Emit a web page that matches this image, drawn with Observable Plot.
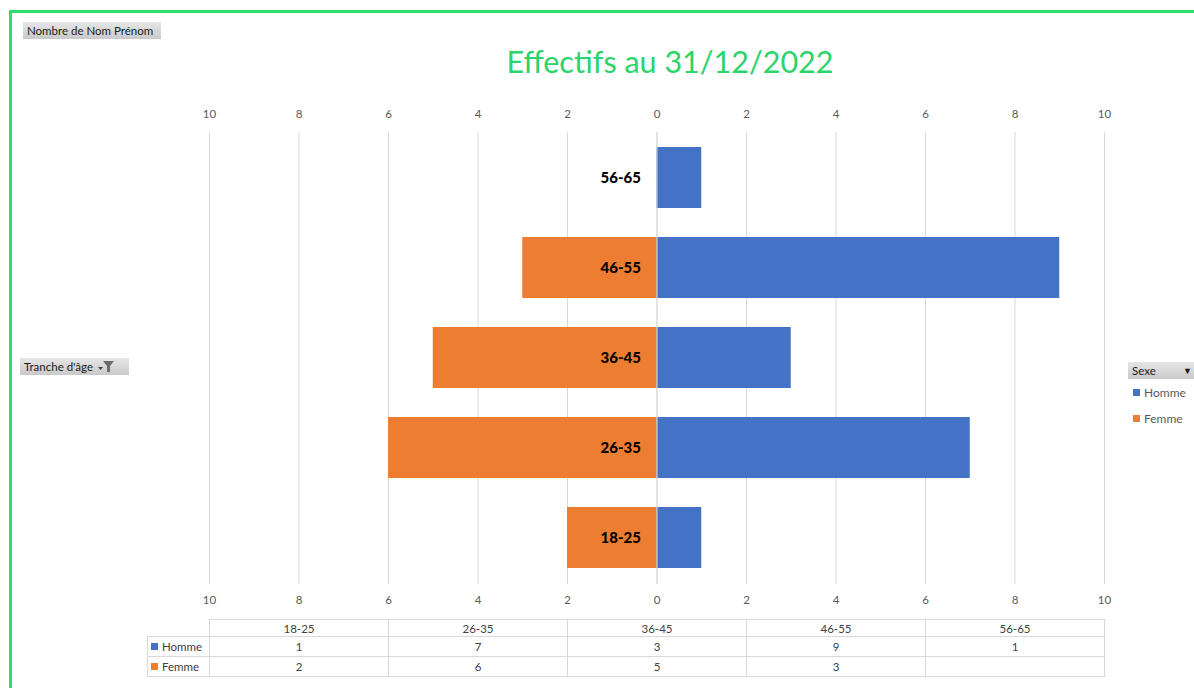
<!DOCTYPE html>
<html><head><meta charset="utf-8">
<script src="https://cdn.jsdelivr.net/npm/d3@7"></script>
<script src="https://cdn.jsdelivr.net/npm/@observablehq/plot@0.6"></script>
<style>
body{margin:0;background:#fff;font-family:Lato,"Open Sans",sans-serif;}
#wrap{position:relative;width:1194px;height:688px;overflow:hidden;background:#fff;}
#wrap > svg{position:absolute;left:0;top:0;}
.frame{position:absolute;left:9px;top:10px;width:1300px;height:800px;border-left:3px solid #2BDE6A;border-top:3px solid #2BDE6A;}
.btn{position:absolute;background:linear-gradient(#E6E6E6,#C9C9C9);color:#1a1a1a;font-size:11.5px;line-height:17px;height:17px;padding:0 4px;white-space:nowrap;box-sizing:border-box;}
.title{position:absolute;left:670px;top:41px;transform:translateX(-50%);color:#2BD468;font-size:30.5px;white-space:nowrap;line-height:40px;}
.leg{position:absolute;font-size:12px;color:#595959;white-space:nowrap;}
.sw{display:inline-block;width:7px;height:7px;margin-right:4px;vertical-align:1px;}
table.dt{position:absolute;left:147px;top:619px;border-collapse:collapse;font-size:11.5px;color:#404040;}
table.dt td{border:1px solid #D9D9D9;height:19px;padding:0;text-align:center;line-height:15px;}
table.dt tr.hd td{height:16px;}
table.dt td.lab{text-align:left;padding-left:3px;width:58px;}
table.dt td.c{width:178px;}
table.dt td.blank{border:none;border-bottom:1px solid #D9D9D9;}
</style></head><body><div id="wrap"></div>
<script>
const ages = ["18-25","26-35","36-45","46-55","56-65"];
const homme = [1,7,3,9,1];
const femme = [2,6,5,3,null];
const series = ["Homme","Femme"];
const colors = ["#4472C4","#ED7D31"];
const xTicks = [-10,-8,-6,-4,-2,0,2,4,6,8,10];
const titleText = "Effectifs au 31/12/2022";
const valueField = "Nombre de Nom Prénom";
const rowField = "Tranche d'âge";
const legendField = "Sexe";

const data = [];
ages.forEach((a,i)=>{
  data.push({age:a, sexe:"Homme", v:homme[i]});
  if (femme[i] != null) data.push({age:a, sexe:"Femme", v:-femme[i]});
});

const font = "Lato, 'Open Sans', sans-serif";
const chart = Plot.plot({
  width:1194, height:688,
  marginLeft:209, marginRight:90, marginTop:132, marginBottom:104,
  style:{fontFamily:font, fontSize:"11.5px", color:"#595959", background:"transparent", overflow:"visible"},
  x:{domain:[-10,10]},
  y:{domain:ages.slice().reverse(), paddingInner:0.32, paddingOuter:0.16, axis:null},
  color:{domain:series, range:colors},
  marks:[
    Plot.ruleX(xTicks,{stroke:"#D9D9D9", strokeWidth:1}),
    Plot.barX(data,{x:"v", y:"age", fill:"sexe"}),
    Plot.ruleX([0],{stroke:"#D9D9D9", strokeWidth:1}),
    Plot.text(ages,{x:()=>0, y:d=>d, text:d=>d, textAnchor:"end", dx:-16, fontWeight:"900", fontSize:15, fill:"#000"}),
    Plot.axisX({anchor:"top", ticks:xTicks, tickSize:0, tickPadding:15, tickFormat:d=>Math.abs(d), label:null, fill:"#595959"}),
    Plot.axisX({anchor:"bottom", ticks:xTicks, tickSize:0, tickPadding:11, tickFormat:d=>Math.abs(d), label:null, fill:"#595959"})
  ]
});

const wrap = document.getElementById("wrap");
wrap.appendChild(chart);

function el(tag, cls, html, style){
  const e = document.createElement(tag);
  if (cls) e.className = cls;
  if (html != null) e.innerHTML = html;
  if (style) Object.assign(e.style, style);
  wrap.appendChild(e);
  return e;
}
el("div","frame");
el("div","title",titleText);
el("div","btn",valueField,{left:"23px",top:"22px",width:"138px"});
const funnel = '<svg width="18" height="13" style="vertical-align:-2px;margin-left:4px"><path d="M1 7 L6 7 L3.5 10 Z" fill="#444"/><path d="M6 1 L17 1 L13 6 L13 12 L10 12 L10 6 Z" fill="#6b6b6b"/></svg>';
el("div","btn",rowField + funnel,{left:"20px",top:"358px",width:"109px"});
el("div","btn",legendField + '<span style="position:absolute;right:6px;top:0;font-size:9px">&#9660;</span>',{left:"1128px",top:"362px",width:"70px"});
series.forEach((s,i)=>{
  el("div","leg",`<span class="sw" style="background:${colors[i]}"></span>${s}`,{left:"1133px",top:(385+i*26)+"px"});
});

// data table
const t = document.createElement("table");
t.className = "dt";
let h = '<tr class="hd"><td class="blank"></td>' + ages.map(a=>`<td class="c">${a}</td>`).join("") + '</tr>';
const rows = [homme, femme];
series.forEach((s,i)=>{
  h += `<tr><td class="lab"><span class="sw" style="background:${colors[i]}"></span>${s}</td>` +
    rows[i].map(v=>`<td class="c">${v==null?"":v}</td>`).join("") + '</tr>';
});
t.innerHTML = h;
wrap.appendChild(t);
</script>
</body></html>
